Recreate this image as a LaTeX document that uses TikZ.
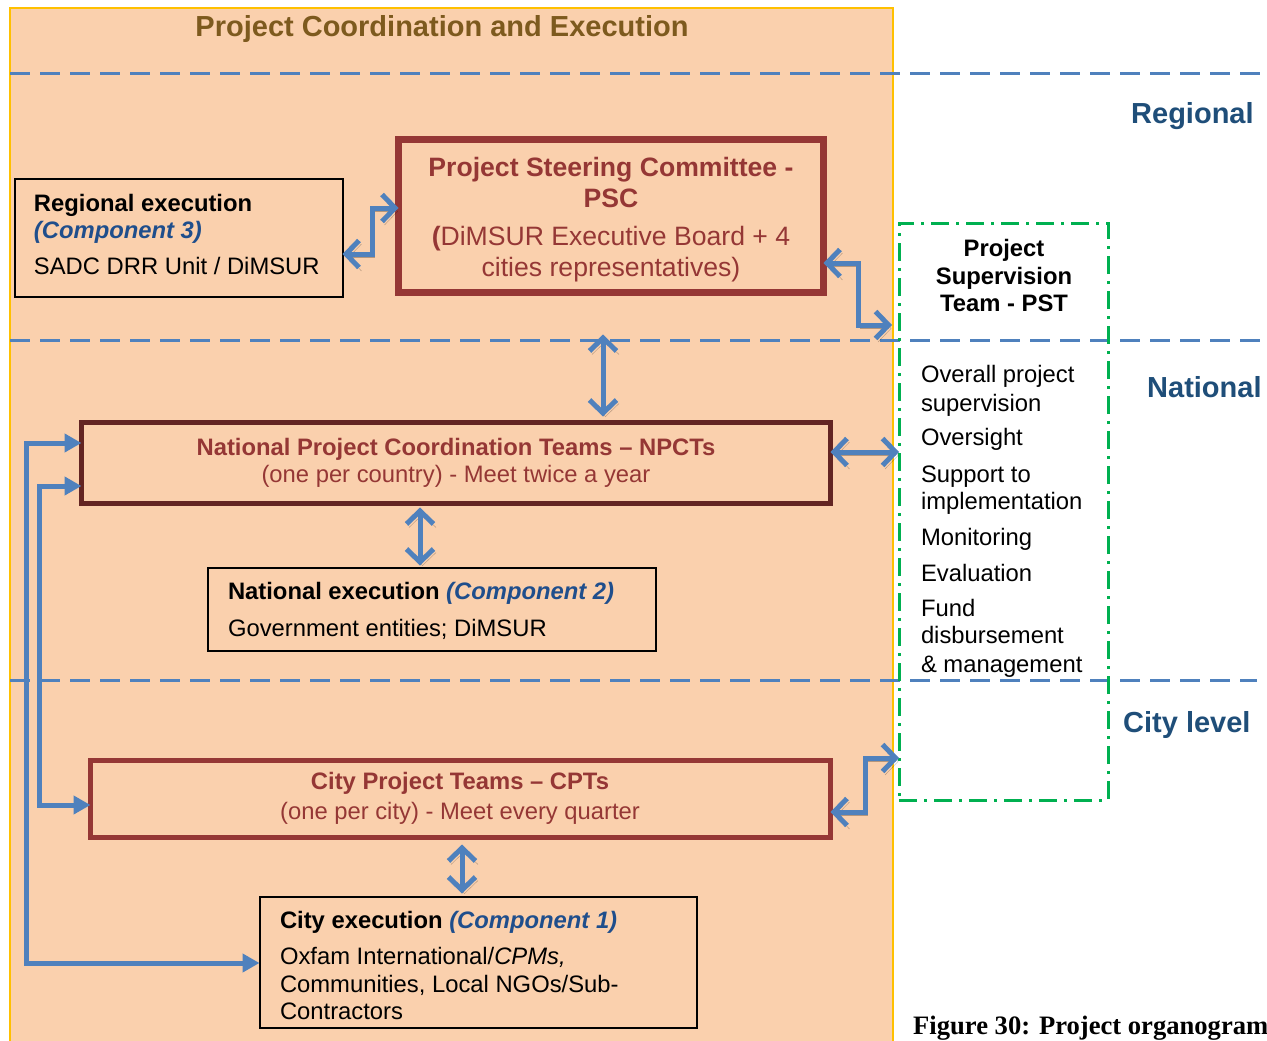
\documentclass[tikz,border=0pt]{standalone}
\usepackage{fontspec}
\setmainfont{Liberation Sans}
\newfontfamily\capfont{Liberation Serif}
\usetikzlibrary{arrows.meta,calc}
\definecolor{bgor}{HTML}{FAD0AD}
\definecolor{frameor}{HTML}{FFC000}
\definecolor{arrblue}{HTML}{4F81BD}
\definecolor{pscred}{HTML}{953735}
\definecolor{npctred}{HTML}{632523}
\definecolor{compblue}{HTML}{1F4E8C}
\definecolor{lvlblue}{HTML}{1F4E79}
\definecolor{titlec}{HTML}{7D5A1E}
\definecolor{pstgreen}{HTML}{00B050}
\newcommand\myfs{\fontsize{23.8}{28}\selectfont}
\newcommand\mybig{\fontsize{26.6}{30}\selectfont}
\begin{document}
\begin{tikzpicture}[x=1pt,y=-1pt,
  box/.style={rectangle, inner sep=0pt, outer sep=0pt},
  thinbox/.style={box, draw=black, line width=2pt},
  redbox/.style={box, draw=pscred, line width=5pt},
  txt/.style={inner sep=0pt, outer sep=0pt, anchor=base west, font=\myfs},
  ctxt/.style={inner sep=0pt, outer sep=0pt, anchor=base, font=\myfs},
  sep/.style={draw=arrblue, line width=3pt, dash pattern=on 20pt off 10pt},
  lvl/.style={inner sep=0pt, anchor=base west, text=lvlblue, font=\bfseries\fontsize{29}{33}\selectfont},
  shadowed/.style={preaction={draw=black, draw opacity=0.28, transform canvas={shift={(2.5pt,-3.5pt)}}}},
  link/.style={draw=arrblue, line width=5pt, shadowed,
    {Straight Barb[length=13pt,width=27pt]}-{Straight Barb[length=13pt,width=27pt]}},
  feed/.style={draw=arrblue, line width=5pt,
    {Triangle[length=17pt,width=18pt]}-{Triangle[length=17pt,width=18pt]}}
]
\useasboundingbox (0,0) rectangle (1267,1041);
\begin{scope}
\clip (0,0) rectangle (1267,1041);
\node[box, fill=bgor, draw=frameor, line width=1.5pt, minimum width=883pt, minimum height=1060pt, anchor=north west] (frame) at (10,8) {};
\end{scope}

% separators
\draw[sep] (10,74) -- (1265,74);
\draw[sep] (10,340) -- (1262,340);
\draw[sep] (10,680) -- (1257,680);

% title and level labels
\node[ctxt, font=\bfseries\fontsize{29}{33}\selectfont, text=titlec] (title) at (442,37) {Project Coordination and Execution};
\node[lvl] (lreg) at (1131,124) {Regional};
\node[lvl] (lnat) at (1147,397) {National};
\node[lvl] (lcity) at (1123,732) {City level};

% boxes
\node[thinbox, minimum width=328pt, minimum height=118pt] (reg) at (178.5,237.5) {};
\node[box, draw=pscred, line width=7pt, minimum width=425pt, minimum height=153pt] (psc) at (611,216) {};
\node[box, draw=pstgreen, line width=3pt, dash pattern=on 18pt off 7pt on 3pt off 7pt, minimum width=209pt, minimum height=577pt] (pst) at (1003.5,511.5) {};
\node[box, draw=npctred, line width=5pt, minimum width=749pt, minimum height=81pt] (npct) at (456,463) {};
\node[thinbox, minimum width=448pt, minimum height=83pt] (nat) at (431.5,609) {};
\node[redbox, minimum width=740pt, minimum height=77pt] (cpt) at (460.5,799) {};
\node[thinbox, minimum width=437pt, minimum height=131pt] (city) at (478,962) {};

% regional execution text
\node[txt] (reg1) at (34,211) {\bfseries Regional execution};
\node[txt, text=compblue] (reg2) at (34,238) {\bfseries\itshape (Component 3)};
\node[txt] (reg3) at (34,274) {SADC DRR Unit / DiMSUR};

% PSC text
\node[ctxt, font=\bfseries\mybig, text=pscred] (psc1) at (611,176) {Project Steering Committee -};
\node[ctxt, font=\bfseries\mybig, text=pscred] (psc2) at (611,207) {PSC};
\node[ctxt, font=\mybig, text=pscred] (psc3) at (611,245) {\textbf{(}DiMSUR Executive Board + 4};
\node[ctxt, font=\mybig, text=pscred] (psc4) at (611,276) {cities representatives)};

% PST text
\node[ctxt, font=\bfseries\myfs] (pst1) at (1004,256) {Project};
\node[ctxt, font=\bfseries\myfs] (pst2) at (1004,284) {Supervision};
\node[ctxt, font=\bfseries\myfs] (pst3) at (1004,311) {Team - PST};
\node[txt] (l1) at (921,382) {Overall project};
\node[txt] (l2) at (921,411) {supervision};
\node[txt] (l3) at (921,445) {Oversight};
\node[txt] (l4) at (921,482) {Support to};
\node[txt] (l5) at (921,509) {implementation};
\node[txt] (l6) at (921,545) {Monitoring};
\node[txt] (l7) at (921,581) {Evaluation};
\node[txt] (l8) at (921,616) {Fund};
\node[txt] (l9) at (921,643) {disbursement};
\node[txt] (l10) at (921,672) {\& management};

% NPCT text
\node[ctxt, font=\bfseries\myfs, text=pscred] (np1) at (456,455) {National Project Coordination Teams – NPCTs};
\node[ctxt, text=pscred] (np2) at (456,482) {(one per country) - Meet twice a year};

% National execution text
\node[txt] (nat1) at (228,599) {\textbf{National execution} \textcolor{compblue}{\bfseries\itshape (Component 2)}};
\node[txt] (nat2) at (228,636) {Government entities; DiMSUR};

% CPT text
\node[ctxt, font=\bfseries\myfs, text=pscred] (cp1) at (460,789) {City Project Teams – CPTs};
\node[ctxt, text=pscred] (cp2) at (460,819) {(one per city) - Meet every quarter};

% City execution text
\node[txt] (ce1) at (280,928) {\textbf{City execution} \textcolor{compblue}{\bfseries\itshape (Component 1)}};
\node[txt] (ce2) at (280,964) {Oxfam International/\textit{CPMs,}};
\node[txt] (ce3) at (280,992) {Communities, Local NGOs/Sub-};
\node[txt] (ce4) at (280,1019) {Contractors};

% caption
\node[inner sep=0pt, anchor=base west, font=\capfont\bfseries\fontsize{26.6}{30}\selectfont] (cap) at (913,1034) {Figure 30: Project organogram};

% connectors
\draw[link] (reg.east |- 0,254) -| (372,208) -- (psc.west |- 0,208);
\draw[link, shorten >=7pt] (psc.east |- 0,263) -| (858,325) -- (pst.west |- 0,325);
\draw[link, shorten <=42pt, shorten >=6pt] (psc.south -| 603,0) -- (npct.north -| 603,0);
\draw[link] (npct.east |- 0,452) -- (pst.west |- 0,452);
\draw[link, shorten <=4pt, shorten >=2pt] (npct.south -| 420,0) -- (nat.north -| 420,0);
\draw[link] (cpt.east |- 0,812) -| (865,758) -- (pst.west |- 0,758);
\draw[link, shorten <=7pt, shorten >=3pt] (cpt.south -| 462,0) -- (city.north -| 462,0);
\draw[feed] (npct.west |- 0,443) -| (26,963) -- (city.west |- 0,963);
\draw[feed] (npct.west |- 0,486) -| (39,805) -- (cpt.west |- 0,805);
\end{tikzpicture}
\end{document}
